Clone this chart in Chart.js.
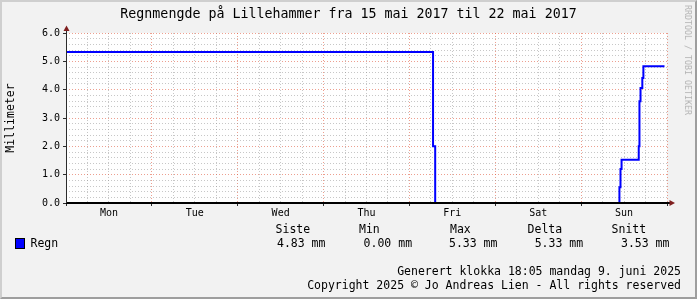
<!DOCTYPE html>
<html lang="no">
<head>
<meta charset="UTF-8">
<title>Regnmengde Lillehammer</title>
<script src="https://cdn.jsdelivr.net/npm/chart.js"></script>
<style>
  html, body { margin: 0; padding: 0; background: #f2f2f2; }
  body { width: 697px; height: 299px; position: relative; overflow: hidden;
         font-family: "DejaVu Sans Mono", monospace; color: #000; }
  #graf { position: absolute; left: 0; top: 0; }
  .txt { position: absolute; white-space: pre; line-height: 14px; }
  #ramme { position: absolute; left: 0; top: 0; width: 697px; height: 299px; box-sizing: border-box;
           border-left: 2px solid #cfcfcf; border-top: 2px solid #cfcfcf;
           border-right: 2px solid #9e9e9e; border-bottom: 2px solid #9e9e9e; pointer-events: none; }
</style>
</head>
<body>
<canvas id="graf" width="697" height="299"></canvas>

<div class="txt" style="left:0;width:697px;top:6px;text-align:center;font-size:13.3px;line-height:16px;">Regnmengde på Lillehammer fra 15 mai 2017 til 22 mai 2017</div>
<div class="txt" style="left:10px;top:118px;font-size:11.5px;transform:translate(-50%,-50%) rotate(-90deg);">Millimeter</div>
<div class="txt" style="left:688px;top:60px;font-size:8.3px;color:#b4b4b4;transform:translate(-50%,-50%) rotate(90deg);">RRDTOOL / TOBI OETIKER</div>

<div id="legende"></div>

<div class="txt" style="right:16px;top:264px;font-size:11.5px;">Generert klokka 18:05 mandag 9. juni 2025</div>
<div class="txt" style="right:16px;top:278px;font-size:11.5px;">Copyright 2025 © Jo Andreas Lien - All rights reserved</div>
<div id="ramme"></div>

<script>
// timer fra man 15. mai 00:00, og regn i mm (lest av bildet)
const timer = [0, 102.6, 103.2, 154.7, 155.0, 155.3, 160.1, 160.3, 160.6, 161.1, 161.4, 167.3];
const regn  = [5.33, 2.0, 0, 0.56, 1.2, 1.53, 2.0, 3.59, 4.06, 4.41, 4.83, 4.83];
const dager = ['Mon', 'Tue', 'Wed', 'Thu', 'Fri', 'Sat', 'Sun'];
const statNavn = ['Siste', 'Min', 'Max', 'Delta', 'Snitt'];
const statVerdi = ['4.83 mm', '0.00 mm', '5.33 mm', '5.33 mm', '3.53 mm'];

// legende under grafen
const leg = document.getElementById('legende');
const navnX = [275.6, 359, 450, 527.6, 611.6];
const verdiX = [277, 363.6, 449, 534.7, 621];
let html = '<div style="position:absolute;left:15px;top:238px;width:8px;height:9px;background:#0000ff;border:1px solid #000;"></div>';
html += '<div class="txt" style="left:30.5px;top:236px;font-size:11.5px;">Regn</div>';
statNavn.forEach((n, i) => {
  html += `<div class="txt" style="left:${navnX[i]}px;top:222px;font-size:11.5px;">${n}</div>`;
  html += `<div class="txt" style="left:${verdiX[i]}px;top:236px;font-size:11.5px;">${statVerdi[i]}</div>`;
});
leg.innerHTML = html;

const hovedGrid = 'rgba(222,80,51,0.55)';
const smaGrid = 'rgba(143,143,143,0.5)';

// hvit bakgrunn i plottet, akser over linja og piler
const pilPlugin = {
  id: 'piler',
  beforeDraw(chart) {
    const { ctx, chartArea: a } = chart;
    ctx.save();
    ctx.fillStyle = '#ffffff';
    ctx.fillRect(a.left, a.top, a.right - a.left, a.bottom - a.top);
    ctx.restore();
  },
  afterDatasetsDraw(chart) {
    const { ctx, chartArea: a } = chart;
    ctx.save();
    ctx.strokeStyle = '#000';
    ctx.lineWidth = 2;
    ctx.beginPath();
    ctx.moveTo(a.left, a.bottom);
    ctx.lineTo(a.right + 3, a.bottom);
    ctx.stroke();
    ctx.strokeStyle = '#2c2c2c';
    ctx.lineWidth = 1;
    ctx.beginPath();
    ctx.moveTo(a.left + 0.5, a.bottom);
    ctx.lineTo(a.left + 0.5, a.top - 3);
    ctx.stroke();
    ctx.fillStyle = '#7f1f1f';
    ctx.beginPath();
    ctx.moveTo(a.left + 0.5, a.top - 7.5);
    ctx.lineTo(a.left + 3.5, a.top - 2);
    ctx.lineTo(a.left - 2.5, a.top - 2);
    ctx.closePath();
    ctx.fill();
    ctx.beginPath();
    ctx.moveTo(a.right + 8, a.bottom);
    ctx.lineTo(a.right + 2.5, a.bottom + 3);
    ctx.lineTo(a.right + 2.5, a.bottom - 3);
    ctx.closePath();
    ctx.fill();
    ctx.restore();
  }
};

new Chart(document.getElementById('graf').getContext('2d'), {
  type: 'line',
  data: {
    datasets: [{
      label: 'Regn',
      data: timer.map((t, i) => ({ x: t, y: regn[i] })),
      borderColor: '#0000ff',
      borderWidth: 2,
      pointRadius: 0,
      stepped: true,
      fill: false
    }]
  },
  options: {
    responsive: false,
    animation: false,
    events: [],
    layout: { padding: { left: 0, right: 30, top: 33, bottom: 0 } },
    plugins: { legend: { display: false }, tooltip: { enabled: false } },
    scales: {
      x: {
        type: 'linear', min: 0, max: 168,
        afterBuildTicks(s) { s.ticks = []; for (let h = 0; h <= 168; h += 6) s.ticks.push({ value: h }); },
        afterFit(s) { s.height = 96; },
        ticks: {
          autoSkip: false, maxRotation: 0, padding: 1, color: '#000',
          font: { family: 'DejaVu Sans Mono', size: 10 },
          callback: v => (v % 24 === 12 ? dager[(v - 12) / 24] : '')
        },
        grid: {
          lineWidth: 1, tickLength: 3,
          color: c => (c.tick.value % 24 === 0 ? hovedGrid : smaGrid),
          tickColor: c => (c.tick && c.tick.value % 24 === 0 ? '#2c2c2c' : 'rgba(0,0,0,0)')
        },
        border: { display: false, dash: [1, 2] }
      },
      y: {
        min: 0, max: 6,
        afterBuildTicks(s) { s.ticks = []; for (let i = 0; i <= 30; i++) s.ticks.push({ value: i / 5 }); },
        afterFit(s) { s.width = 66; },
        ticks: {
          autoSkip: false, padding: 3, color: '#000',
          font: { family: 'DejaVu Sans Mono', size: 10 },
          callback: v => (v % 1 === 0 ? v.toFixed(1) : '')
        },
        grid: {
          lineWidth: 1, tickLength: 3,
          color: c => (c.tick.value % 1 === 0 ? hovedGrid : smaGrid),
          tickColor: c => (c.tick && c.tick.value % 1 === 0 ? '#2c2c2c' : 'rgba(0,0,0,0)')
        },
        border: { display: false, dash: [1, 2] }
      }
    }
  },
  plugins: [pilPlugin]
});
</script>
</body>
</html>
